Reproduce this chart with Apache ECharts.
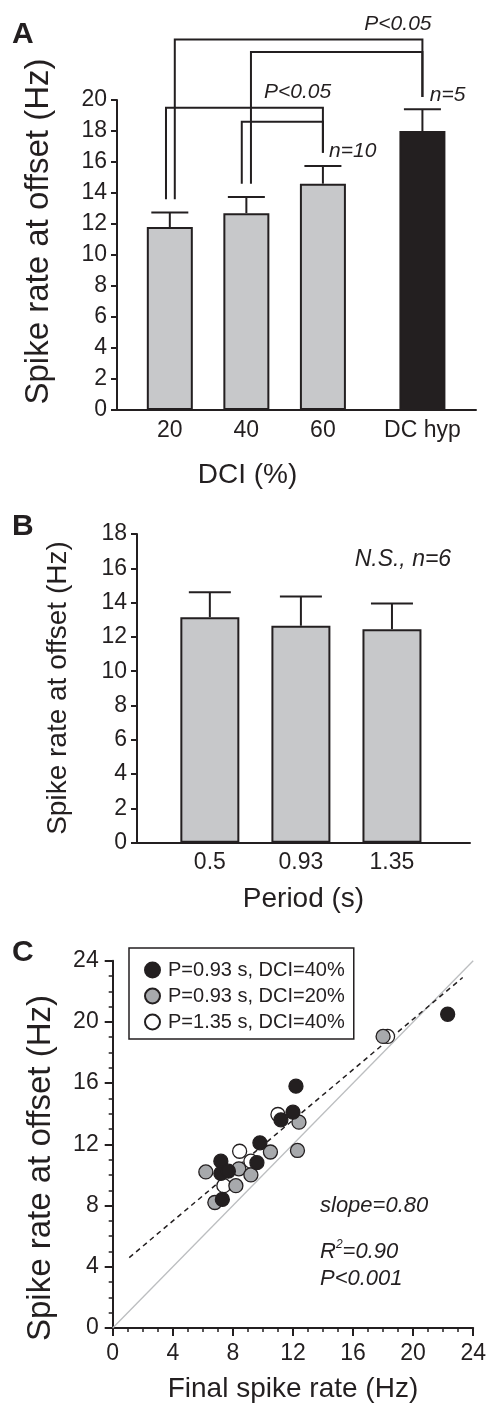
<!DOCTYPE html>
<html>
<head>
<meta charset="utf-8">
<script src="https://cdn.jsdelivr.net/npm/echarts@6/dist/echarts.min.js"></script>
<style>
html, body { margin: 0; padding: 0; background: #fff; }
#chart { width: 489px; height: 1404px; }
</style>
</head>
<body>
<div id="chart"></div>
<script>
// panel A: spike rate vs DCI
var dciLabels = ['20', '40', '60', 'DC hyp'];
var dciPos = [0, 1, 2, 3.3];
var dciMean = [11.8, 12.7, 14.6, 18.0];
var dciErr = [12.75, 13.75, 15.75, 19.4];
// brackets: x left, x right, y top, left leg end, right leg end
var dciBrackets = [
    [0.065, 3.3, 23.9, 13.6, 20.2],
    [1.06, 3.3, 23.1, 14.6, 20.2],
    [-0.05, 2.0, 19.5, 13.6, 16.6],
    [0.94, 2.0, 18.6, 14.6, 16.6]
];
var dciNotes = [
    [2.98, 24.9, 'P<0.05'],
    [1.67, 20.5, 'P<0.05'],
    [2.39, 16.7, 'n=10'],
    [3.63, 20.3, 'n=5']
];

// panel B: spike rate vs period
var periodLabels = ['0.5', '0.93', '1.35'];
var periodPos = [0, 1, 2];
var periodMean = [13.15, 12.65, 12.45];
var periodErr = [14.6, 14.35, 13.95];
var periodNotes = [[2.12, 16.5, 'N.S., n=6']];

// panel C: offset rate vs final rate
var blackX = [9.8, 7.2, 9.6, 7.2, 7.7, 7.3, 12.2, 11.2, 12.0, 22.3];
var blackY = [12.1, 10.9, 10.8, 10.1, 10.25, 8.4, 15.8, 13.6, 14.1, 20.5];
var grayX = [10.5, 12.3, 6.2, 8.4, 9.2, 8.2, 6.8, 12.4, 18.0];
var grayY = [11.5, 11.6, 10.2, 10.4, 10.0, 9.3, 8.2, 13.45, 19.05];
var whiteX = [8.45, 9.2, 7.4, 11.0, 18.3];
var whiteY = [11.55, 10.9, 9.3, 13.95, 19.05];
var fitX = [1.1, 23.3];
var fitY = [4.6, 22.9];
var unityXY = [0, 24];
var statNotes = [[13.8, 7.95, 'slope=0.80'], [13.8, 5.0, 'R2'], [13.8, 3.2, 'P<0.001']];

var ink = '#231f20';
var fam = '"Liberation Sans", Arial, Helvetica, sans-serif';
var yTitle = 'Spike rate at offset (Hz)';

function pairs(xs, ys) {
    return xs.map(function (x, i) { return [x, ys[i]]; });
}

function errorSeries(xi, yi, pos, mean, err, half) {
    return {
        type: 'custom', xAxisIndex: xi, yAxisIndex: yi, z: 2, clip: false, silent: true,
        data: pos.map(function (x, i) { return [x, mean[i], err[i]]; }),
        renderItem: function (params, api) {
            var p0 = api.coord([api.value(0), api.value(1)]);
            var p1 = api.coord([api.value(0), api.value(2)]);
            var st = { stroke: ink, lineWidth: 2 };
            return {
                type: 'group', children: [
                    { type: 'line', shape: { x1: p0[0], y1: p0[1], x2: p1[0], y2: p1[1] }, style: st },
                    { type: 'line', shape: { x1: p1[0] - half, y1: p1[1], x2: p1[0] + half, y2: p1[1] }, style: st }
                ]
            };
        }
    };
}

function noteSeries(xi, yi, notes, size, align) {
    return {
        type: 'custom', xAxisIndex: xi, yAxisIndex: yi, z: 5, clip: false, silent: true,
        data: notes.map(function (n) { return [n[0], n[1]]; }),
        renderItem: function (params, api) {
            var p = api.coord([api.value(0), api.value(1)]);
            var txt = notes[params.dataIndex][2];
            var style = {
                text: txt, fill: ink, font: 'italic ' + size + 'px ' + fam,
                align: align, verticalAlign: 'middle'
            };
            if (txt === 'R2') {
                style.text = '{i|R}{s|2}{i|=0.90}';
                style.rich = {
                    i: { font: 'italic ' + size + 'px ' + fam, fill: ink },
                    s: { font: 'italic 12px ' + fam, fill: ink, padding: [0, 0, 14, 0] }
                };
            }
            return { type: 'text', x: p[0], y: p[1], style: style };
        }
    };
}

function yAxisBase(gi, min, max, interval) {
    return {
        type: 'value', gridIndex: gi, min: min, max: max, interval: interval,
        axisLine: { show: true, onZero: false, lineStyle: { color: ink, width: 2 } },
        axisTick: { show: true, length: 6, lineStyle: { color: ink, width: 2 } },
        axisLabel: { fontFamily: fam, fontSize: 23, color: ink, margin: 10 },
        splitLine: { show: false }
    };
}

function yName(x, y, size) {
    return {
        type: 'text', x: x, y: y, rotation: Math.PI / 2,
        style: { text: yTitle, font: size + 'px ' + fam, fill: ink, align: 'center', verticalAlign: 'middle' }
    };
}

var yA = yAxisBase(0, 0, 20, 2);
var yB = yAxisBase(1, 0, 18, 2);
var yC = yAxisBase(2, 0, 24, 4);
yC.axisTick.length = 8;
yC.axisLabel.margin = 14;
yC.minorTick = { show: true, splitNumber: 4, length: 4, lineStyle: { color: ink, width: 1.5 } };

var option = {
    animation: false,
    backgroundColor: '#fff',
    textStyle: { fontFamily: fam },
    graphic: [
        { type: 'text', left: 12, top: 20, style: { text: 'A', font: 'bold 30px ' + fam, fill: ink } },
        { type: 'text', left: 12, top: 512, style: { text: 'B', font: 'bold 30px ' + fam, fill: ink } },
        { type: 'text', left: 12, top: 938, style: { text: 'C', font: 'bold 30px ' + fam, fill: ink } },
        yName(39, 231.5, 33),
        yName(58, 688, 28),
        yName(41, 1168, 33)
    ],
    grid: [
        { left: 117, top: 100, width: 359, height: 310 },
        { left: 137, top: 534, width: 333, height: 308.7 },
        { left: 112.7, top: 960.7, width: 369.3, height: 368.3 }
    ],
    xAxis: [
        {
            type: 'value', gridIndex: 0, min: -0.69, max: 4.0,
            name: 'DCI (%)', nameLocation: 'middle', nameGap: 51,
            nameTextStyle: { fontFamily: fam, fontSize: 28, color: ink, padding: [0, 98, 0, 0] },
            axisLine: { show: true, onZero: false, lineStyle: { color: ink, width: 2 } },
            axisTick: { show: false },
            axisLabel: {
                customValues: dciPos, fontFamily: fam, fontSize: 23, color: ink, margin: 9,
                formatter: function (v) { return dciLabels[dciPos.indexOf(v)]; }
            },
            splitLine: { show: false }
        },
        {
            type: 'value', gridIndex: 1, min: -0.8, max: 2.857,
            name: 'Period (s)', nameLocation: 'middle', nameGap: 43,
            nameTextStyle: { fontFamily: fam, fontSize: 28, color: ink },
            axisLine: { show: true, onZero: false, lineStyle: { color: ink, width: 2 } },
            axisTick: { show: false },
            axisLabel: {
                customValues: periodPos, fontFamily: fam, fontSize: 23, color: ink, margin: 8,
                formatter: function (v) { return periodLabels[periodPos.indexOf(v)]; }
            },
            splitLine: { show: false }
        },
        {
            type: 'value', gridIndex: 2, min: 0, max: 24, interval: 4,
            name: 'Final spike rate (Hz)', nameLocation: 'middle', nameGap: 47,
            nameTextStyle: { fontFamily: fam, fontSize: 28, color: ink },
            axisLine: { show: true, onZero: false, lineStyle: { color: ink, width: 2 } },
            axisTick: { show: true, length: 8, lineStyle: { color: ink, width: 2 } },
            minorTick: { show: true, splitNumber: 4, length: 4, lineStyle: { color: ink, width: 1.5 } },
            axisLabel: { fontFamily: fam, fontSize: 23, color: ink, margin: 14 },
            splitLine: { show: false }
        }
    ],
    yAxis: [yA, yB, yC],
    legend: {
        orient: 'vertical', left: 129, top: 948,
        data: ['P=0.93 s, DCI=40%', 'P=0.93 s, DCI=20%', 'P=1.35 s, DCI=40%'],
        icon: 'circle', itemWidth: 15, itemHeight: 15, itemGap: 6,
        padding: [12, 9, 7, 15],
        borderColor: ink, borderWidth: 1.5, borderRadius: 0,
        textStyle: { fontFamily: fam, fontSize: 20, color: ink, lineHeight: 20, padding: [0, 0, 0, 3] },
        selectedMode: false
    },
    series: [
        // panel A
        errorSeries(0, 0, dciPos, dciMean, dciErr, 18.5),
        {
            type: 'bar', xAxisIndex: 0, yAxisIndex: 0, barWidth: 46, z: 3,
            data: dciPos.map(function (x, i) {
                return { value: [x, dciMean[i]], itemStyle: { color: i === 3 ? ink : '#c7c8ca' } };
            }),
            itemStyle: { borderColor: ink, borderWidth: 2 }
        },
        {
            type: 'custom', xAxisIndex: 0, yAxisIndex: 0, z: 4, clip: false, silent: true,
            data: dciBrackets,
            renderItem: function (params, api) {
                var x1 = api.value(0), x2 = api.value(1), yt = api.value(2);
                var pts = [
                    api.coord([x1, api.value(3)]), api.coord([x1, yt]),
                    api.coord([x2, yt]), api.coord([x2, api.value(4)])
                ];
                return { type: 'polyline', shape: { points: pts }, style: { stroke: ink, lineWidth: 2, fill: null } };
            }
        },
        noteSeries(0, 0, dciNotes, 21, 'center'),

        // panel B
        errorSeries(1, 1, periodPos, periodMean, periodErr, 21),
        {
            type: 'bar', xAxisIndex: 1, yAxisIndex: 1, barWidth: 59, z: 3,
            data: pairs(periodPos, periodMean),
            itemStyle: { color: '#c7c8ca', borderColor: ink, borderWidth: 2 }
        },
        noteSeries(1, 1, periodNotes, 23, 'center'),

        // panel C
        {
            type: 'line', xAxisIndex: 2, yAxisIndex: 2, silent: true, symbol: 'none', z: 1,
            data: [[unityXY[0], unityXY[0]], [unityXY[1], unityXY[1]]],
            lineStyle: { color: '#bcbec0', width: 1.3 }
        },
        {
            type: 'line', xAxisIndex: 2, yAxisIndex: 2, silent: true, symbol: 'none', z: 1,
            data: pairs(fitX, fitY),
            lineStyle: { color: ink, width: 1.5, type: [5, 4] }
        },
        {
            name: 'P=1.35 s, DCI=40%', type: 'scatter', xAxisIndex: 2, yAxisIndex: 2, z: 2,
            symbolSize: 14, data: pairs(whiteX, whiteY),
            itemStyle: { color: '#ffffff', borderColor: ink, borderWidth: 1.3, opacity: 1 }
        },
        {
            name: 'P=0.93 s, DCI=20%', type: 'scatter', xAxisIndex: 2, yAxisIndex: 2, z: 3,
            symbolSize: 14, data: pairs(grayX, grayY),
            itemStyle: { color: '#a7a9ac', borderColor: ink, borderWidth: 1.3, opacity: 1 }
        },
        {
            name: 'P=0.93 s, DCI=40%', type: 'scatter', xAxisIndex: 2, yAxisIndex: 2, z: 4,
            symbolSize: 14, data: pairs(blackX, blackY),
            itemStyle: { color: ink, borderColor: ink, borderWidth: 1.3, opacity: 1 }
        },
        noteSeries(2, 2, statNotes, 22, 'left')
    ]
};

var chart = echarts.init(document.getElementById('chart'), null, { renderer: 'canvas' });
chart.setOption(option);
</script>
</body>
</html>
